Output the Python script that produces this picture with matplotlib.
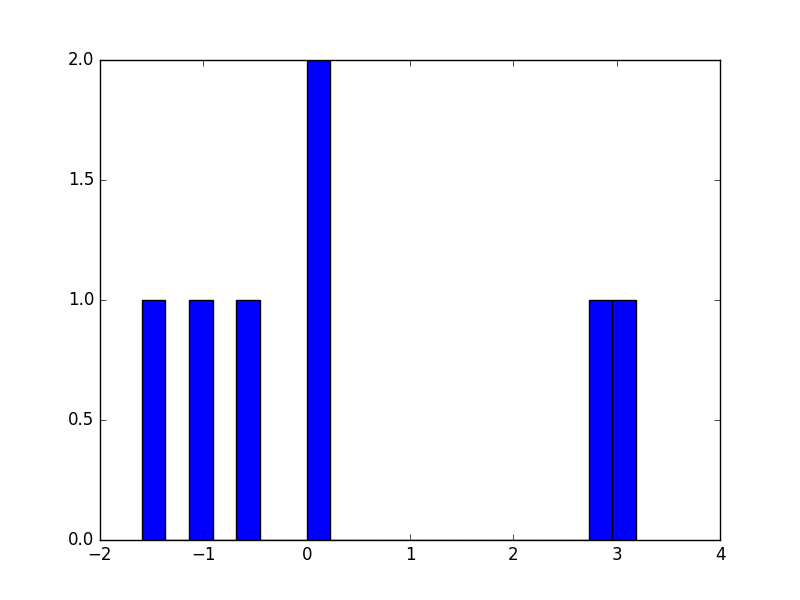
import matplotlib
matplotlib.use("Agg")
import matplotlib.pyplot as plt

plt.style.use("classic")

values = [-1.594, -1.0, -0.6, 0.1, 0.15, 2.8, 3.187]
n_bins = 21

fig, ax = plt.subplots(figsize=(8, 6), dpi=100)
ax.hist(values, bins=n_bins, color="blue", edgecolor="black")
ax.set_xlim(-2, 4)
ax.set_ylim(0, 2)
fig.savefig("out.png", dpi=100)
